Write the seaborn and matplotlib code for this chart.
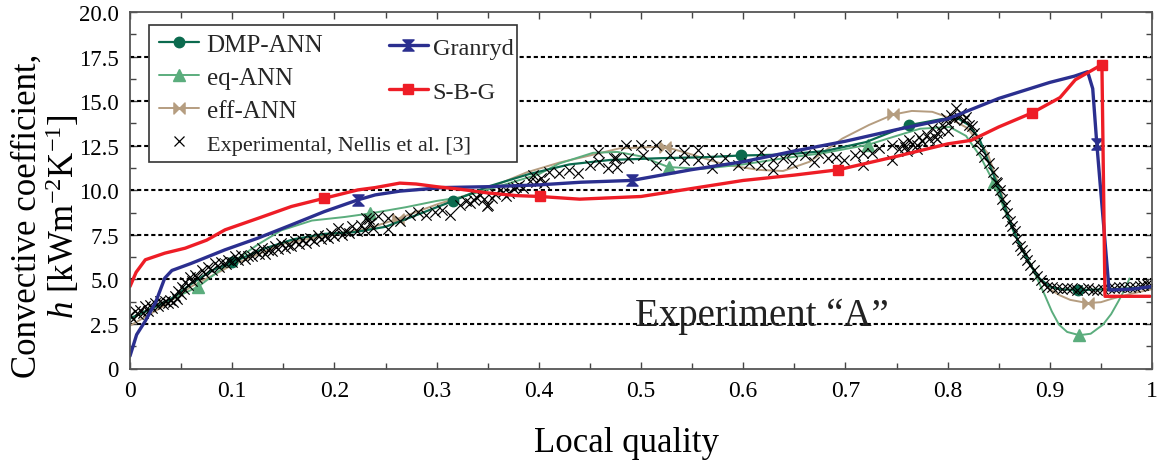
import numpy as np
import matplotlib
matplotlib.use("Agg")
import matplotlib.pyplot as plt
import seaborn as sns
from matplotlib.lines import Line2D
from matplotlib.patches import Rectangle
from matplotlib.path import Path
from matplotlib.ticker import MultipleLocator, FuncFormatter

# ---------------- data ----------------
dmp_x = [0.0, 0.02, 0.04, 0.06, 0.08, 0.10, 0.13, 0.16, 0.19, 0.22, 0.25, 0.28, 0.316, 0.35, 0.39,
         0.43, 0.47, 0.52, 0.56, 0.598, 0.64, 0.68, 0.72, 0.762, 0.795, 0.811, 0.821, 0.831, 0.84,
         0.85, 0.86, 0.87, 0.88, 0.89, 0.9, 0.91, 0.928, 0.96, 1.0]
dmp_h = [2.8, 3.35, 3.9, 4.75, 5.5, 5.95, 6.7, 7.25, 7.55, 7.65, 7.95, 8.6, 9.4, 10.2, 10.9,
         11.45, 11.7, 11.8, 11.85, 11.95, 12.0, 12.2, 12.7, 13.65, 14.0, 14.0, 13.65, 12.9, 11.6,
         10.1, 8.4, 7.0, 5.9, 5.05, 4.6, 4.45, 4.4, 4.45, 4.55]
dmp_marks = [5, 12, 19, 23, 36]

eq_x = [0.0, 0.02, 0.045, 0.067, 0.09, 0.11, 0.125, 0.148, 0.178, 0.21, 0.235, 0.27, 0.3, 0.323,
        0.36, 0.4, 0.42, 0.453, 0.477, 0.5, 0.527, 0.56, 0.6, 0.64, 0.68, 0.722, 0.75, 0.773,
        0.802, 0.818, 0.832, 0.845, 0.855, 0.865, 0.88, 0.895, 0.902, 0.909, 0.917, 0.929,
        0.94, 0.952, 0.96, 0.967, 0.973, 0.978]
eq_h = [2.8, 3.3, 4.0, 4.6, 5.6, 6.35, 6.95, 7.75, 8.3, 8.5, 8.7, 9.05, 9.4, 9.6,
        10.2, 10.9, 11.5, 12.1, 12.15, 11.9, 11.3, 11.2, 11.45, 11.8, 12.1, 12.55, 13.05, 13.45,
        13.55, 13.05, 11.9, 10.45, 9.0, 7.6, 5.98, 4.13, 3.2, 2.46, 2.05, 1.87,
        1.95, 2.46, 3.05, 3.76, 4.4, 5.05]
eq_marks = [3, 10, 20, 25, 31, 39]

eff_x = [0.0, 0.03, 0.06, 0.1, 0.15, 0.2, 0.23, 0.262, 0.3, 0.35, 0.388, 0.42, 0.45, 0.479,
         0.523, 0.55, 0.583, 0.616, 0.639, 0.665, 0.697, 0.723, 0.747, 0.765, 0.785, 0.8, 0.819,
         0.839, 0.85, 0.86, 0.87, 0.88, 0.89, 0.9, 0.91, 0.92, 0.937, 0.95, 0.96, 0.97, 0.98, 1.0]
eff_h = [2.4, 3.4, 4.6, 5.8, 7.0, 7.55, 7.8, 8.4, 9.2, 10.1, 11.0, 11.55, 11.95, 12.35,
         12.45, 12.0, 11.42, 11.14, 11.08, 11.6, 12.9, 13.66, 14.25, 14.45, 14.4, 14.1, 13.5,
         12.1, 10.3, 8.5, 7.0, 5.9, 5.0, 4.45, 4.1, 3.85, 3.67, 3.72, 3.9, 4.05, 4.2, 4.45]
eff_marks = [7, 14, 22, 36]

gr_x = [0.0, 0.0065, 0.0147, 0.025, 0.034, 0.041, 0.06, 0.093, 0.125, 0.158, 0.19, 0.223, 0.24,
        0.264, 0.306, 0.35, 0.4, 0.441, 0.491, 0.549, 0.6, 0.65, 0.7, 0.75, 0.8, 0.85, 0.9,
        0.924, 0.937, 0.942, 0.946, 0.958, 0.98, 1.0]
gr_h = [0.7, 1.9, 2.64, 3.7, 5.07, 5.5, 5.9, 6.66, 7.31, 8.06, 8.8, 9.46, 9.74,
        9.95, 10.15, 10.2, 10.3, 10.45, 10.55, 11.15, 11.6, 12.2, 12.75, 13.4, 14.0, 15.15, 16.05,
        16.4, 16.65, 15.7, 12.6, 4.4, 4.45, 4.6]
gr_marks = [11, 18, 30]

sbg_x = [0.0, 0.006, 0.015, 0.034, 0.054, 0.075, 0.093, 0.1255, 0.158, 0.19, 0.223, 0.24, 0.264,
         0.28, 0.3, 0.324, 0.35, 0.378, 0.401, 0.44, 0.5, 0.55, 0.6, 0.65, 0.693, 0.75, 0.8,
         0.823, 0.85, 0.883, 0.91, 0.925, 0.951, 0.954, 0.998]
sbg_h = [4.6, 5.4, 6.1, 6.47, 6.75, 7.2, 7.78, 8.43, 9.09, 9.55, 10.02, 10.15, 10.4,
         10.35, 10.2, 10.05, 9.85, 9.7, 9.65, 9.5, 9.65, 10.1, 10.55, 10.85, 11.15, 11.9, 12.6,
         12.8, 13.55, 14.35, 15.2, 16.2, 17.05, 4.05, 4.05]
sbg_marks = [9, 18, 24, 29, 32]

exp_x = [0.0, 0.005, 0.01, 0.015, 0.0195, 0.0245, 0.029, 0.034, 0.039, 0.044, 0.047, 0.0505,
         0.054, 0.0585, 0.0635, 0.070, 0.0765, 0.083, 0.0895, 0.096, 0.1025, 0.109, 0.1155,
         0.122, 0.129, 0.135, 0.142, 0.148, 0.155, 0.161, 0.168, 0.176, 0.184, 0.1905, 0.197,
         0.2035, 0.210, 0.217, 0.2265, 0.2345,
         0.003, 0.008, 0.013, 0.018, 0.022, 0.027, 0.032, 0.037, 0.042, 0.046, 0.05, 0.053,
         0.057, 0.061, 0.066, 0.073, 0.08, 0.087, 0.094, 0.1, 0.106, 0.113, 0.119, 0.126, 0.132,
         0.139, 0.145, 0.152, 0.158, 0.165, 0.172, 0.18, 0.187, 0.194, 0.2, 0.207, 0.214, 0.222,
         0.23, 0.238, 0.234, 0.252,
         0.231, 0.243, 0.2525, 0.264, 0.274, 0.282, 0.29, 0.298, 0.305, 0.313, 0.323, 0.329,
         0.337, 0.342, 0.35, 0.354, 0.362, 0.368, 0.375, 0.381, 0.391, 0.394, 0.402, 0.41, 0.42,
         0.43, 0.438, 0.45, 0.459, 0.458, 0.468, 0.476,
         0.333, 0.339, 0.346, 0.357, 0.365, 0.371, 0.378, 0.385, 0.397, 0.405, 0.349,
         0.474, 0.477, 0.4855, 0.487, 0.5, 0.502, 0.515, 0.515, 0.528, 0.5425, 0.5425, 0.5555,
         0.5555, 0.569, 0.569, 0.582, 0.595, 0.606, 0.6175, 0.6175, 0.629, 0.629, 0.6385, 0.648,
         0.648, 0.66, 0.6695, 0.673, 0.6825, 0.691, 0.699, 0.709, 0.717,
         0.717, 0.7265, 0.733, 0.746, 0.746, 0.756, 0.7625, 0.7705, 0.772, 0.78, 0.785, 0.79,
         0.795, 0.798, 0.803, 0.808, 0.811, 0.816, 0.821, 0.826, 0.829, 0.8325, 0.836, 0.8405,
         0.844, 0.847,
         0.752, 0.758, 0.765, 0.775, 0.782, 0.788, 0.793, 0.8, 0.806, 0.813, 0.818, 0.824, 0.8,
         0.79, 0.77, 0.76,
         0.848, 0.853, 0.858, 0.863, 0.868, 0.873, 0.878, 0.8845, 0.891, 0.8975, 0.9075, 0.917,
         0.927, 0.937, 0.9465, 0.963, 0.973, 0.983, 0.991, 0.999,
         0.851, 0.856, 0.861, 0.866, 0.871, 0.876, 0.881, 0.887, 0.894,
         0.902, 0.912, 0.922, 0.932, 0.942, 0.952, 0.958, 0.968, 0.978, 0.988, 0.995]
exp_h = [3.01, 3.2, 3.3, 3.48, 3.57, 3.67, 3.76, 3.76, 3.85, 4.04, 4.32, 4.6,
         4.88, 5.16, 5.25, 5.53, 5.72, 5.91, 6.0, 6.1, 6.29, 6.38, 6.29,
         6.57, 6.75, 6.66, 6.85, 7.03, 6.94, 7.13, 7.22, 7.31, 7.5, 7.41, 7.59,
         7.87, 7.69, 7.97, 8.06, 8.15,
         2.8, 3.05, 3.1, 3.25, 3.4, 3.5, 3.6, 3.65, 3.75, 3.9, 4.2, 4.45,
         4.7, 4.9, 5.05, 5.3, 5.5, 5.7, 5.85, 5.95, 6.1, 6.15, 6.3, 6.45, 6.45,
         6.6, 6.7, 6.75, 6.9, 7.0, 7.05, 7.15, 7.25, 7.3, 7.45, 7.5, 7.6, 7.7,
         7.75, 7.9, 8.39, 7.83,
         8.43, 8.53, 8.43, 8.25, 8.62, 8.8, 8.62, 8.8, 8.9, 8.62, 9.18, 9.37,
         9.46, 9.74, 9.18, 9.55, 10.0, 9.65, 10.1, 10.3, 10.5, 10.86, 10.67, 11.05, 10.95,
         11.14, 10.95, 11.42, 11.6, 12.17, 11.23, 11.8,
         9.3, 9.6, 9.5, 9.8, 9.9, 9.85, 10.2, 10.15, 10.45, 10.4, 9.09,
         11.79, 11.33, 12.54, 11.79, 12.54, 11.98, 12.54, 11.42, 11.98, 12.17, 11.7, 12.26,
         11.7, 11.79, 11.23, 11.79, 11.42, 11.51, 12.17, 11.42, 11.7, 11.14, 11.79, 12.17,
         11.51, 11.98, 11.6, 12.07, 11.79, 11.89, 11.7, 11.98, 12.07,
         11.42, 12.07, 12.35, 11.7, 12.54, 12.63, 12.82, 12.54, 13.0, 13.1, 13.47, 13.19,
         13.66, 14.03, 14.22, 14.59, 14.13, 13.94, 13.66, 13.19, 12.73, 12.26, 11.89, 11.51,
         11.05, 10.49,
         12.3, 12.4, 12.6, 12.75, 12.9, 13.0, 13.4, 13.75, 14.0, 14.35, 14.1, 13.6, 13.3,
         12.85, 12.3, 12.2,
         10.43, 9.5, 8.74, 7.98, 7.24, 6.67, 6.1, 5.55, 4.98, 4.6, 4.51, 4.51,
         4.41, 4.51, 4.41, 4.51, 4.6, 4.6, 4.7, 4.7,
         10.0, 9.2, 8.3, 7.7, 6.9, 6.4, 5.8, 5.2, 4.75,
         4.55, 4.45, 4.5, 4.45, 4.4, 4.45, 4.5, 4.55, 4.6, 4.65, 4.75]

legend_labels = ["DMP-ANN", "eq-ANN", "eff-ANN", "Experimental, Nellis et al. [3]",
                 "Granryd", "S-B-G"]
x_label = "Local quality"
y_label = "Convective coefficient,\n$h$ [kWm$^{-2}$K$^{-1}$]"
annotation = "Experiment \u201cA\u201d"

# ---------------- style ----------------
c_dmp = "#0b6a4e"
c_eq = "#5bad7d"
c_eff = "#b59d80"
c_gr = "#2b2f8f"
c_sbg = "#ee1d26"

sns.set_theme(style="ticks")
plt.rcParams["font.family"] = ["Liberation Serif", "DejaVu Serif"]
plt.rcParams["mathtext.fontset"] = "custom"
plt.rcParams["mathtext.rm"] = "Liberation Serif"
plt.rcParams["mathtext.it"] = "Liberation Serif:italic"

fig, ax = plt.subplots(figsize=(11.59, 4.64), dpi=100)
fig.subplots_adjust(left=130 / 1159, right=1152 / 1159, bottom=(464 - 369.5) / 464,
                    top=(464 - 13) / 464)

bowtie = Path([(-1, -1), (-1, 1), (0, 0), (-1, -1), (1, 1), (1, -1), (0, 0), (1, 1)],
              [Path.MOVETO, Path.LINETO, Path.LINETO, Path.CLOSEPOLY] * 2)
hourglass = Path([(-1, 1), (1, 1), (0, 0), (-1, 1), (-1, -1), (1, -1), (0, 0), (-1, -1)],
                 [Path.MOVETO, Path.LINETO, Path.LINETO, Path.CLOSEPOLY] * 2)

# grid
for lvl in np.arange(2.5, 20, 2.5):
    ax.axhline(lvl, color="black", lw=1.5, ls=(0, (2, 1.4)), zorder=1)

# experimental scatter
sns.scatterplot(x=exp_x, y=exp_h, marker="x", color="black", s=55, linewidth=0.85,
                ax=ax, zorder=3, legend=False)

def draw(xs, hs, color, lw, marker, ms, marks, z):
    sns.lineplot(x=xs, y=hs, ax=ax, color=color, lw=lw, marker=marker, markersize=ms,
                 markevery=marks, markeredgecolor=color, markerfacecolor=color,
                 markeredgewidth=1.0, estimator=None, sort=False, legend=False, zorder=z)

draw(eff_x, eff_h, c_eff, 1.4, bowtie, 8, eff_marks, 2.6)
draw(eq_x, eq_h, c_eq, 1.4, "^", 8.5, eq_marks, 2.7)
draw(dmp_x, dmp_h, c_dmp, 1.6, "o", 7.5, dmp_marks, 2.8)
draw(gr_x, gr_h, c_gr, 2.4, hourglass, 8, gr_marks, 4)
draw(sbg_x, sbg_h, c_sbg, 2.4, "s", 7, sbg_marks, 4.1)

ax.set_xlim(0, 1)
ax.set_ylim(0, 20)
ax.xaxis.set_major_locator(MultipleLocator(0.1))
ax.xaxis.set_minor_locator(MultipleLocator(0.05))
ax.yaxis.set_major_locator(MultipleLocator(2.5))
ax.yaxis.set_minor_locator(MultipleLocator(1.25))
ax.xaxis.set_major_formatter(FuncFormatter(
    lambda v, p: "0" if abs(v) < 1e-9 else ("1" if abs(v - 1) < 1e-9 else f"{v:.1f}")))
ax.yaxis.set_major_formatter(FuncFormatter(
    lambda v, p: "0" if abs(v) < 1e-9 else f"{v:.1f}"))
ax.tick_params(which="both", direction="in", top=True, right=True, color="#444444",
               width=1.0)
ax.tick_params(which="major", length=5)
ax.tick_params(which="minor", length=4)
ax.tick_params(axis="x", which="major", labelsize=17, pad=8, labelcolor="black")
ax.tick_params(axis="y", which="major", labelsize=16.5, pad=8, labelcolor="black")
for s in ax.spines.values():
    s.set_color("#555555")
    s.set_linewidth(1.3)
    s.set_zorder(6)

ax.set_xlabel(x_label, fontsize=25, color="black")
ax.xaxis.set_label_coords(0.486, -0.16)
ax.set_ylabel(y_label, fontsize=25, color="black", linespacing=1.0, va="center",
              ha="center")
ax.yaxis.label.set_rotation_mode("default")
ax.yaxis.set_label_coords(-0.082, 0.43)

ax.text(0.494, 2.44, annotation, fontsize=28, ha="left", va="baseline", color="#222222",
        zorder=5)

# legend frame and entries
ax.add_patch(Rectangle((0.0186, 0.579), 0.3601, 0.3845, transform=ax.transAxes,
                       facecolor="white", edgecolor="#333333", lw=1.2, zorder=5))
h_dmp = Line2D([], [], color=c_dmp, lw=1.6, marker="o", ms=7.5, mec=c_dmp)
h_eq = Line2D([], [], color=c_eq, lw=1.4, marker="^", ms=8.5, mec=c_eq)
h_eff = Line2D([], [], color=c_eff, lw=1.4, marker=bowtie, ms=8, mec=c_eff)
h_exp = Line2D([], [], color="black", lw=0, marker="x", ms=7, mew=0.9)
h_gr = Line2D([], [], color=c_gr, lw=2.4, marker=hourglass, ms=8, mec=c_gr)
h_sbg = Line2D([], [], color=c_sbg, lw=2.4, marker="s", ms=7, mec=c_sbg)

leg1 = ax.legend([h_dmp, h_eq, h_eff, h_exp], legend_labels[:4], loc="upper left",
                 bbox_to_anchor=(0.0284, 0.941), frameon=False, fontsize=18,
                 handlelength=1.6, handletextpad=0.3, labelspacing=0.42, borderpad=0,
                 borderaxespad=0, numpoints=1)
leg1.get_texts()[3].set_fontsize(16)
leg1.set_zorder(7)
ax.add_artist(leg1)
leg2 = ax.legend([h_gr, h_sbg], legend_labels[4:], loc="upper left",
                 bbox_to_anchor=(0.2534, 0.93), frameon=False, fontsize=17.5,
                 handlelength=1.6, handletextpad=0.2, labelspacing=0.9, borderpad=0,
                 borderaxespad=0, numpoints=1)
leg2.set_zorder(7)

fig.savefig("out.png", dpi=100)
